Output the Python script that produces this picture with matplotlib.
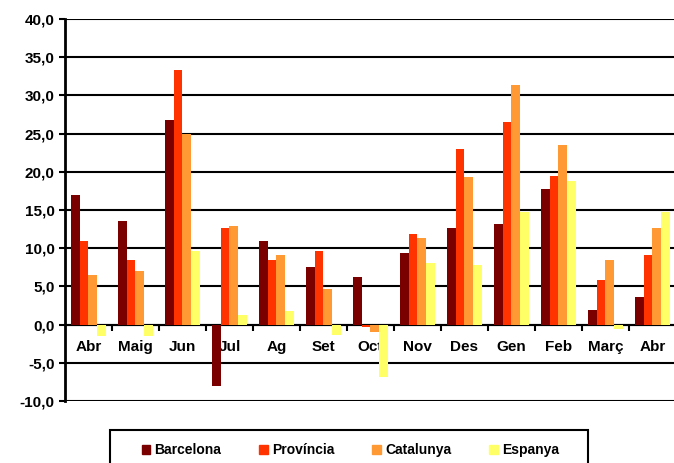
import matplotlib.pyplot as plt
import numpy as np
from matplotlib.patches import Patch, Rectangle

plt.rcParams['font.family'] = ['Liberation Sans', 'DejaVu Sans']

# mesos
mesos = ['Abr', 'Maig', 'Jun', 'Jul', 'Ag', 'Set', 'Oct', 'Nov', 'Des', 'Gen', 'Feb', 'Març', 'Abr']

barcelona = [17.0, 13.5, 26.8, -8.0, 11.0, 7.5, 6.2, 9.4, 12.6, 13.2, 17.7, 1.9, 3.6]
provincia = [11.0, 8.5, 33.3, 12.6, 8.5, 9.7, -0.3, 11.8, 23.0, 26.5, 19.5, 5.9, 9.1]
catalunya = [6.5, 7.0, 25.0, 12.9, 9.1, 4.6, -1.0, 11.3, 19.3, 31.3, 23.5, 8.5, 12.6]
espanya = [-1.5, -1.5, 9.7, 1.3, 1.8, -1.3, -6.8, 8.1, 7.8, 14.8, 18.8, -0.6, 14.8]

series = [barcelona, provincia, catalunya, espanya]
noms = ['Barcelona', 'Província', 'Catalunya', 'Espanya']
colors = ['#7a0000', '#ff3300', '#ff9933', '#ffff66']

fig = plt.figure(figsize=(6.74, 4.63), dpi=100)
ax = fig.add_axes([0.0964, 0.1339, 0.9065, 0.825])

x = np.arange(len(mesos))
w = 0.19
for k, (vals, c) in enumerate(zip(series, colors)):
    ax.bar(x + (k - 1.5) * w, vals, width=w, color=c, zorder=3)

ax.set_xlim(-0.5, len(mesos) - 0.5)
ax.set_ylim(-10, 40)
ax.set_yticks(np.arange(-10, 41, 5))
ax.set_yticklabels([('%.1f' % v).replace('.', ',') for v in np.arange(-10, 41, 5)],
                   fontsize=11, fontweight='bold')
ax.grid(axis='y', color='black', linewidth=1.5)
ax.set_axisbelow(True)

ax.spines['top'].set_visible(False)
ax.spines['right'].set_visible(False)
ax.spines['left'].set_linewidth(2)
ax.spines['bottom'].set_position(('data', 0))
ax.spines['bottom'].set_linewidth(1.5)
ax.tick_params(axis='y', length=4, width=1.5)

ax.set_xticks(x)
ax.set_xticklabels(mesos, fontsize=11, fontweight='bold')
ax.tick_params(axis='x', length=0, pad=11)
ax.set_xticks(np.arange(0.5, len(mesos) - 1, 1), minor=True)
ax.tick_params(axis='x', which='minor', length=4, width=1.5, direction='out')

# caixa de la llegenda
fig.patches.append(Rectangle((110 / 674, -0.1), 478 / 674, 0.1 + 1 - 430 / 463,
                             transform=fig.transFigure, fill=False,
                             edgecolor='black', linewidth=1.5))

handles = [Patch(color=c) for c in colors]
leg = fig.legend(handles, noms, loc='center left', bbox_to_anchor=(0.2104, 0.027),
                 ncol=4, frameon=False, handlelength=0.6,
                 handleheight=0.6, handletextpad=0.3, columnspacing=2.75,
                 borderpad=0, borderaxespad=0, prop={'weight': 'bold', 'size': 10})

fig.savefig('out.png', dpi=100)
